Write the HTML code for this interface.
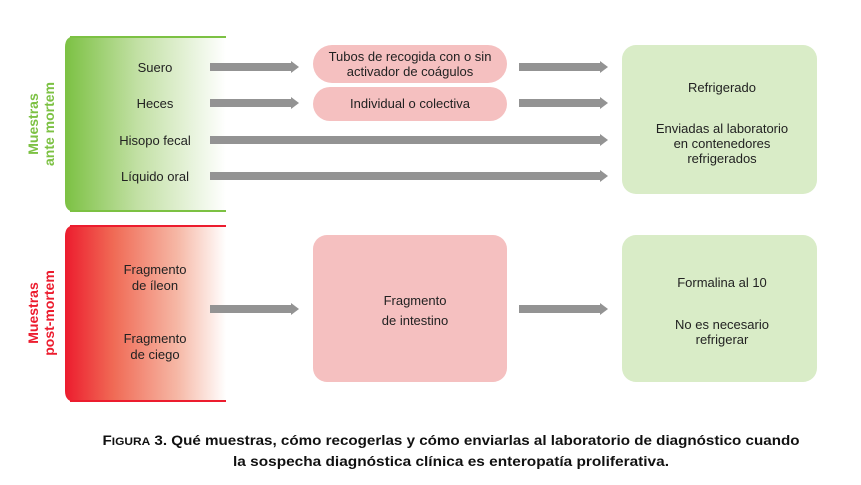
<!DOCTYPE html>
<html><head><meta charset="utf-8"><style>
html,body{margin:0;padding:0;background:#fff;}
svg{display:block;font-family:"Liberation Sans",sans-serif;}
</style></head><body>
<svg width="861" height="485" viewBox="0 0 861 485" xmlns="http://www.w3.org/2000/svg">
<defs>
<linearGradient id="gg" x1="0" x2="1" y1="0" y2="0"><stop offset="0" stop-color="#7cc143"/><stop offset="0.45" stop-color="#c2e0a4"/><stop offset="1" stop-color="#ffffff"/></linearGradient>
<linearGradient id="rg" x1="0" x2="1" y1="0" y2="0"><stop offset="0" stop-color="#ec1c2e"/><stop offset="0.3" stop-color="#f06a55"/><stop offset="0.7" stop-color="#f6b8a6"/><stop offset="1" stop-color="#ffffff"/></linearGradient>
<g id="ah"><polygon points="0,-6 8,0 0,6" fill="#939393"/></g>
</defs>
<!-- green box -->
<path d="M226,36 L76,36 Q65,36 65,47 L65,201 Q65,212 76,212 L226,212 Z" fill="url(#gg)"/>
<line x1="70" y1="37" x2="226" y2="37" stroke="#7cc143" stroke-width="2"/>
<line x1="70" y1="211" x2="226" y2="211" stroke="#7cc143" stroke-width="2"/>
<!-- red box -->
<path d="M226,225 L76,225 Q65,225 65,236 L65,391 Q65,402 76,402 L226,402 Z" fill="url(#rg)"/>
<line x1="70" y1="226" x2="226" y2="226" stroke="#ec1c2e" stroke-width="2"/>
<line x1="70" y1="401" x2="226" y2="401" stroke="#ec1c2e" stroke-width="2"/>
<!-- vertical labels -->
<text transform="translate(38,124) rotate(-90)" text-anchor="middle" font-size="14" font-weight="bold" fill="#7cc143">Muestras</text>
<text transform="translate(54,124) rotate(-90)" text-anchor="middle" font-size="14" font-weight="bold" fill="#7cc143">ante mortem</text>
<text transform="translate(38,313) rotate(-90)" text-anchor="middle" font-size="14" font-weight="bold" fill="#ec1c2e">Muestras</text>
<text transform="translate(54,313) rotate(-90)" text-anchor="middle" font-size="14" font-weight="bold" fill="#ec1c2e">post-mortem</text>
<g font-size="13" fill="#222" text-anchor="middle">
<text x="155" y="72">Suero</text>
<text x="155" y="108">Heces</text>
<text x="155" y="145">Hisopo fecal</text>
<text x="155" y="181">Líquido oral</text>
<text x="155" y="274">Fragmento</text>
<text x="155" y="290">de íleon</text>
<text x="155" y="343">Fragmento</text>
<text x="155" y="359">de ciego</text>
</g>
<!-- arrows -->
<g fill="#939393">
<rect x="210" y="63" width="82" height="8"/><use href="#ah" x="291" y="67"/>
<rect x="210" y="99" width="82" height="8"/><use href="#ah" x="291" y="103"/>
<rect x="519" y="63" width="82" height="8"/><use href="#ah" x="600" y="67"/>
<rect x="519" y="99" width="82" height="8"/><use href="#ah" x="600" y="103"/>
<rect x="210" y="136" width="391" height="8"/><use href="#ah" x="600" y="140"/>
<rect x="210" y="172" width="391" height="8"/><use href="#ah" x="600" y="176"/>
<rect x="210" y="305" width="82" height="8"/><use href="#ah" x="291" y="309"/>
<rect x="519" y="305" width="82" height="8"/><use href="#ah" x="600" y="309"/>
</g>
<!-- pink pills -->
<rect x="313" y="45" width="194" height="38" rx="19" fill="#f5c0c0"/>
<rect x="313" y="87" width="194" height="34" rx="17" fill="#f5c0c0"/>
<rect x="313" y="235" width="194" height="147" rx="14" fill="#f5c0c0"/>
<!-- green boxes -->
<rect x="622" y="45" width="195" height="149" rx="14" fill="#d9ecc7"/>
<rect x="622" y="235" width="195" height="147" rx="14" fill="#d9ecc7"/>
<g font-size="13" fill="#222" text-anchor="middle">
<text x="410" y="61">Tubos de recogida con o sin</text>
<text x="410" y="76">activador de coágulos</text>
<text x="410" y="108">Individual o colectiva</text>
<text x="415" y="305">Fragmento</text>
<text x="415" y="325">de intestino</text>
<text x="722" y="92">Refrigerado</text>
<text x="722" y="133">Enviadas al laboratorio</text>
<text x="722" y="148">en contenedores</text>
<text x="722" y="163">refrigerados</text>
<text x="722" y="287">Formalina al 10</text>
<text x="722" y="329">No es necesario</text>
<text x="722" y="344">refrigerar</text>
</g>
<g font-size="14" font-weight="bold" fill="#111" text-anchor="middle">
<text x="451" y="445" textLength="697" lengthAdjust="spacingAndGlyphs">F<tspan font-size="11">IGURA</tspan> 3. Qué muestras, cómo recogerlas y cómo enviarlas al laboratorio de diagnóstico cuando</text>
<text x="451" y="466" textLength="436" lengthAdjust="spacingAndGlyphs">la sospecha diagnóstica clínica es enteropatía proliferativa.</text>
</g>
</svg>
</body></html>
